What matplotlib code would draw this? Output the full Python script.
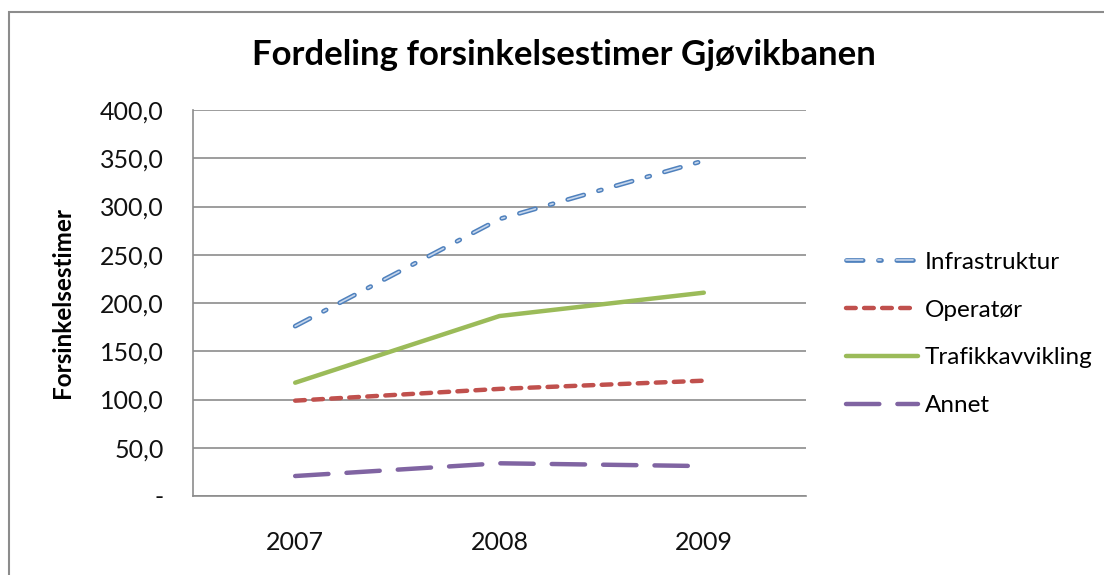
import matplotlib

matplotlib.use("Agg")
import matplotlib.pyplot as plt
from matplotlib.lines import Line2D
from matplotlib.patches import Rectangle

years = ["2007", "2008", "2009"]
infrastruktur = [176.0, 287.0, 347.5]
operator = [98.8, 111.0, 119.5]
trafikk = [117.4, 186.5, 210.7]
annet = [20.7, 33.9, 31.0]
y_ticks = [0, 50, 100, 150, 200, 250, 300, 350, 400]
labels = ["Infrastruktur", "Operatør", "Trafikkavvikling", "Annet"]

plt.rcParams["font.family"] = ["Lato", "DejaVu Sans"]
plt.rcParams["lines.scale_dashes"] = False

fig = plt.figure(figsize=(11.04, 5.75), dpi=100)
W, H = 1104, 575
ax = fig.add_axes([193 / W, 1 - 496 / H, (806 - 193) / W, (496 - 110) / H])

# frame round the whole chart
fig.patches.append(Rectangle((9 / W, -0.1), 1.2, 1 - 12 / H + 0.1,
                             transform=fig.transFigure, fill=False,
                             edgecolor="#8c8c8c", lw=1.5))

blue_dash = (0, (12, 11, 2.2, 11))
red_dash = (0, (7, 6))
purple_dash = (0, (24, 13))
styles = {
    "blue_out": dict(color="#4f81bd", lw=3.4, linestyle=blue_dash, dash_capstyle="round"),
    "blue_in": dict(color="#c6d6ec", lw=1.2, linestyle=blue_dash, dash_capstyle="round"),
    "red": dict(color="#c0504d", lw=3.2, linestyle=red_dash, dash_capstyle="round"),
    "green": dict(color="#9bbb59", lw=3.2, solid_capstyle="round"),
    "purple": dict(color="#8064a2", lw=3.2, linestyle=purple_dash, dash_capstyle="round"),
}

x = range(len(years))
# compound blue line: dark outer, light inner
ax.plot(x, infrastruktur, zorder=3, **styles["blue_out"])
ax.plot(x, infrastruktur, zorder=4, **styles["blue_in"])
ax.plot(x, operator, zorder=3, **styles["red"])
ax.plot(x, trafikk, zorder=3, **styles["green"])
ax.plot(x, annet, zorder=3, **styles["purple"])

ax.set_xlim(-0.5, 2.5)
ax.set_ylim(0, 400)
ax.set_xticks(list(x))
ax.set_xticklabels(years)
ax.set_yticks(y_ticks)
ax.set_yticklabels(["-" if v == 0 else f"{v:.1f}".replace(".", ",") for v in y_ticks])
ax.tick_params(axis="both", length=0, labelsize=18, colors="#111111")
ax.tick_params(axis="y", pad=21)
ax.tick_params(axis="x", pad=25)
ax.grid(axis="y", color="#8c8c8c", lw=1.2)
ax.set_axisbelow(True)
for side in ("top", "right"):
    ax.spines[side].set_visible(False)
for side in ("left", "bottom"):
    ax.spines[side].set_color("#8c8c8c")
    ax.spines[side].set_linewidth(1.2)

fig.text(62 / W, 1 - 303 / H, "Forsinkelsestimer", rotation=90, ha="center",
         va="center", fontsize=17.5, fontweight="bold")
fig.text(564 / W, 1 - 55 / H, "Fordeling forsinkelsestimer Gjøvikbanen",
         ha="center", va="center", fontsize=25, fontweight="bold")

# legend from proxy lines so the blue one looks compound
handles = [
    (Line2D([], [], **styles["blue_out"]), Line2D([], [], **styles["blue_in"])),
    Line2D([], [], **styles["red"]),
    Line2D([], [], **styles["green"]),
    Line2D([], [], **styles["purple"]),
]
fig.legend(handles, labels, loc="upper left", bbox_to_anchor=(824 / W, 1 - 230 / H),
           frameon=False, fontsize=17.5, handlelength=2.95, handletextpad=0.29,
           labelspacing=1.1)

fig.savefig("out.png", dpi=100)
